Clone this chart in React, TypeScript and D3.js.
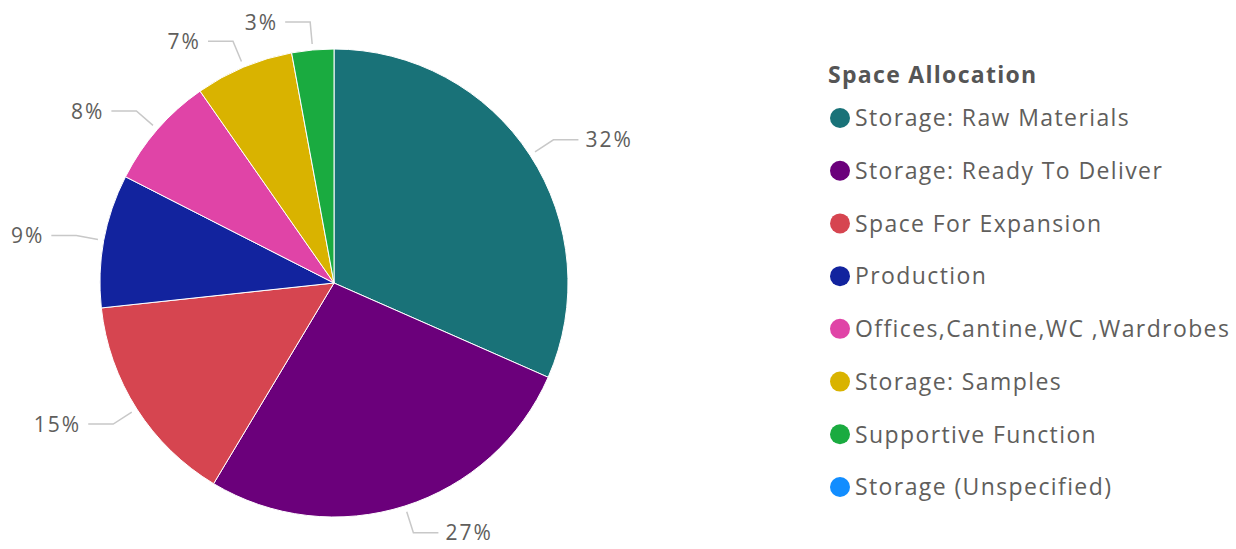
import React from "react";
import * as d3 from "d3";

const categories = [
  "Storage: Raw Materials",
  "Storage: Ready To Deliver",
  "Space For Expansion",
  "Production",
  "Offices,Cantine,WC ,Wardrobes",
  "Storage: Samples",
  "Supportive Function",
  "Storage (Unspecified)",
];
const values = [31.6, 27.0, 14.7, 9.2, 7.8, 6.8, 2.9, 0];
const colors = ["#197278", "#6B007B", "#D64550", "#12239E", "#E044A7", "#D9B300", "#1AAB40", "#118DFF"];
const legendTitle = "Space Allocation";

const W = 1236, H = 549;
const cx = 334, cy = 283, r = 234;
const font = "'Segoe UI', 'Open Sans', sans-serif";

export default function App() {
  const total = d3.sum(values);
  const pie = d3.pie<number>().sort(null).value((d) => d);
  const arcs = pie(values);
  const arcGen = d3.arc<d3.PieArcDatum<number>>().innerRadius(0).outerRadius(r);
  const legendY = d3.scalePoint<string>().domain(categories).range([118, 487]);

  return (
    <svg width={W} height={H} style={{ position: "absolute", left: 0, top: 0 }}>
      <g transform={`translate(${cx},${cy})`}>
        {arcs.map((a, i) =>
          a.value > 0 ? (
            <path key={i} d={arcGen(a) || ""} fill={colors[i]} stroke="#fff" strokeWidth={1} />
          ) : null
        )}
        {arcs.map((a, i) => {
          if (a.value <= 0) return null;
          const mid = (a.startAngle + a.endAngle) / 2;
          const s = Math.sin(mid), c = -Math.cos(mid);
          const x1 = s * (r + 6), y1 = c * (r + 6);
          const x2 = s * (r + 28), y2 = c * (r + 28);
          const right = s >= 0;
          const x3 = x2 + (right ? 25 : -25);
          const tx = x3 + (right ? 7 : -7);
          const pct = Math.round((a.value / total) * 100) + "%";
          return (
            <g key={"l" + i}>
              <polyline points={`${x1},${y1} ${x2},${y2} ${x3},${y2}`} fill="none" stroke="#c8c8c8" strokeWidth={1.5} />
              <text x={tx} y={y2} dy="0.36em" textAnchor={right ? "start" : "end"} fontFamily={font} fontSize={21} letterSpacing={2} fill="#605E5C">
                {pct}
              </text>
            </g>
          );
        })}
      </g>
      <text x={828} y={83} fontFamily={font} fontSize={23} letterSpacing={1.3} fontWeight="bold" fill="#555">
        {legendTitle}
      </text>
      {categories.map((cat, i) => (
        <g key={cat} transform={`translate(0,${legendY(cat)})`}>
          <circle cx={840} cy={0} r={10} fill={colors[i]} />
          <text x={855} y={0} dy="0.36em" fontFamily={font} fontSize={23} letterSpacing={1.4} fill="#605E5C">
            {cat}
          </text>
        </g>
      ))}
    </svg>
  );
}
